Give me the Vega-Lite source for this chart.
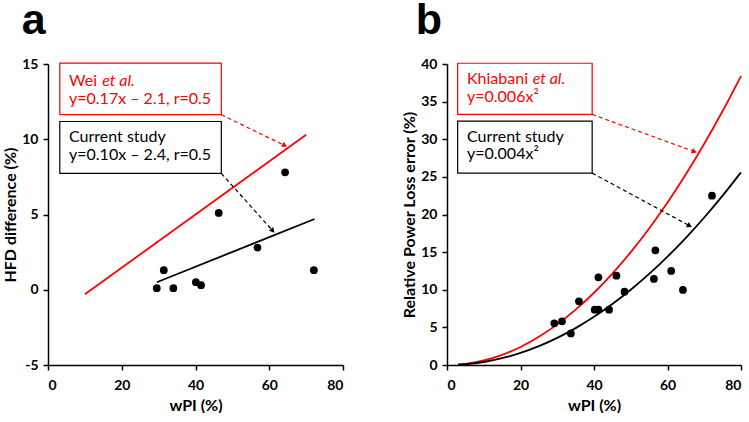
{
  "$schema": "https://vega.github.io/schema/vega-lite/v6.json",
  "padding": {"left": 2, "top": 0, "right": 0, "bottom": 0},
  "background": "white",
  "spacing": 57,
  "config": {
    "view": {"stroke": null},
    "font": "Lato",
    "axis": {
      "grid": false, "domainColor": "black", "domainWidth": 1.5, "tickColor": "black", "tickWidth": 1.5, "tickSize": 5,
      "labelFont": "Lato", "labelFontWeight": "bold", "labelFontSize": 14, "labelColor": "black",
      "titleFont": "Lato", "titleFontWeight": "bold", "titleFontSize": 16, "titleColor": "black"
    },
    "axisX": {"labelPadding": 8, "titlePadding": 5},
    "axisY": {"labelPadding": 5, "titlePadding": 3}
  },
  "datasets": {
    "pointsA": [
      {"x": 29.5, "y": 0.1}, {"x": 31.4, "y": 1.3}, {"x": 34.0, "y": 0.1}, {"x": 40.1, "y": 0.5},
      {"x": 41.5, "y": 0.3}, {"x": 46.3, "y": 5.1}, {"x": 56.8, "y": 2.8}, {"x": 64.3, "y": 7.8}, {"x": 72.1, "y": 1.3}
    ],
    "fitA": [
      {"series": "ref", "x": 10, "y": -0.3}, {"series": "ref", "x": 70, "y": 10.3},
      {"series": "current", "x": 29.5, "y": 0.5}, {"series": "current", "x": 72.3, "y": 4.7}
    ],
    "boxesA": [
      {"series": "ref", "x": 3.2, "x2": 47.0, "y": 15.06, "y2": 11.63},
      {"series": "current", "x": 3.2, "x2": 47.0, "y": 11.18, "y2": 7.73}
    ],
    "labelsA": [
      {"series": "ref", "x": 5.7, "y": 13.55, "text": "Wei"},
      {"series": "ref", "x": 5.7, "y": 12.33, "text": "y=0.17x – 2.1, r=0.5"},
      {"series": "current", "x": 5.7, "y": 9.79, "text": "Current study"},
      {"series": "current", "x": 5.7, "y": 8.61, "text": "y=0.10x – 2.4, r=0.5"}
    ],
    "italicA": [{"series": "ref", "x": 14.7, "y": 13.55, "text": "et al."}],
    "arrowsA": [
      {"series": "ref", "x": 47.0, "y": 11.63, "x2": 64.0, "y2": 9.61},
      {"series": "current", "x": 47.0, "y": 7.73, "x2": 60.8, "y2": 3.96}
    ],
    "headsA": [
      {"series": "ref", "x": 64.0, "y": 9.61},
      {"series": "current", "x": 60.8, "y": 3.96}
    ],
    "pointsB": [
      {"x": 29.2, "y": 5.54}, {"x": 31.3, "y": 5.8}, {"x": 33.7, "y": 4.2}, {"x": 35.9, "y": 8.46},
      {"x": 40.2, "y": 7.35}, {"x": 41.2, "y": 7.35}, {"x": 41.2, "y": 11.65}, {"x": 44.1, "y": 7.35},
      {"x": 46.1, "y": 11.87}, {"x": 48.3, "y": 9.75}, {"x": 56.3, "y": 11.43}, {"x": 56.7, "y": 15.24},
      {"x": 61.0, "y": 12.5}, {"x": 64.2, "y": 9.97}, {"x": 72.1, "y": 22.5}
    ],
    "curvesB": [
      {"series": "ref", "x": 3, "y": 0.05}, {"series": "ref", "x": 5, "y": 0.15}, {"series": "ref", "x": 10, "y": 0.6},
      {"series": "ref", "x": 15, "y": 1.35}, {"series": "ref", "x": 20, "y": 2.4}, {"series": "ref", "x": 25, "y": 3.75},
      {"series": "ref", "x": 30, "y": 5.4}, {"series": "ref", "x": 35, "y": 7.35}, {"series": "ref", "x": 40, "y": 9.6},
      {"series": "ref", "x": 45, "y": 12.15}, {"series": "ref", "x": 50, "y": 15}, {"series": "ref", "x": 55, "y": 18.15},
      {"series": "ref", "x": 60, "y": 21.6}, {"series": "ref", "x": 65, "y": 25.35}, {"series": "ref", "x": 70, "y": 29.4},
      {"series": "ref", "x": 75, "y": 33.75}, {"series": "ref", "x": 80, "y": 38.4},
      {"series": "current", "x": 3, "y": 0.04}, {"series": "current", "x": 5, "y": 0.1}, {"series": "current", "x": 10, "y": 0.4},
      {"series": "current", "x": 15, "y": 0.9}, {"series": "current", "x": 20, "y": 1.6}, {"series": "current", "x": 25, "y": 2.5},
      {"series": "current", "x": 30, "y": 3.6}, {"series": "current", "x": 35, "y": 4.9}, {"series": "current", "x": 40, "y": 6.4},
      {"series": "current", "x": 45, "y": 8.1}, {"series": "current", "x": 50, "y": 10}, {"series": "current", "x": 55, "y": 12.1},
      {"series": "current", "x": 60, "y": 14.4}, {"series": "current", "x": 65, "y": 16.9}, {"series": "current", "x": 70, "y": 19.6},
      {"series": "current", "x": 75, "y": 22.5}, {"series": "current", "x": 80, "y": 25.6}
    ],
    "boxesB": [
      {"series": "ref", "x": 2.9, "x2": 39.5, "y": 40.1, "y2": 33.3},
      {"series": "current", "x": 2.9, "x2": 39.5, "y": 32.4, "y2": 25.5}
    ],
    "labelsB": [
      {"series": "ref", "x": 5.44, "y": 37.34, "text": "Khiabani"},
      {"series": "ref", "x": 5.44, "y": 34.9, "text": "y=0.006x²"},
      {"series": "current", "x": 5.44, "y": 29.7, "text": "Current study"},
      {"series": "current", "x": 5.44, "y": 27.4, "text": "y=0.004x²"}
    ],
    "italicB": [{"series": "ref", "x": 23.3, "y": 37.34, "text": "et al."}],
    "arrowsB": [
      {"series": "ref", "x": 39.5, "y": 33.3, "x2": 67.1, "y2": 28.4},
      {"series": "current", "x": 39.5, "y": 25.5, "x2": 65.8, "y2": 18.56}
    ],
    "headsB": [
      {"series": "ref", "x": 67.1, "y": 28.4},
      {"series": "current", "x": 65.8, "y": 18.56}
    ]
  },
  "hconcat": [
    {
      "width": 295, "height": 301,
      "title": {"text": "a", "anchor": "start", "fontSize": 43, "fontWeight": "bold", "font": "Liberation Sans", "color": "black", "dx": 19, "offset": 14},
      "encoding": {
        "x": {"field": "x", "type": "quantitative", "scale": {"domain": [0, 80]}, "title": "wPI (%)", "axis": {"values": [0, 20, 40, 60, 80]}},
        "y": {"field": "y", "type": "quantitative", "scale": {"domain": [-5, 15]}, "title": "HFD difference (%)", "axis": {"values": [-5, 0, 5, 10, 15], "labelExpr": "'' + datum.value"}}
      },
      "layer": [
        {
          "data": {"name": "boxesA"},
          "mark": {"type": "rect", "fill": "white", "strokeWidth": 1.2},
          "encoding": {
            "x2": {"field": "x2"},
            "y2": {"field": "y2"},
            "stroke": {"field": "series", "type": "nominal", "scale": {"domain": ["ref", "current"], "range": ["#ff0000", "#000000"]}, "legend": null}
          }
        },
        {
          "data": {"name": "fitA"},
          "mark": {"type": "line", "strokeWidth": 1.8},
          "encoding": {
            "color": {"field": "series", "type": "nominal", "scale": {"domain": ["ref", "current"], "range": ["#ff0000", "#000000"]}, "legend": null}
          }
        },
        {
          "data": {"name": "pointsA"},
          "mark": {"type": "circle", "size": 60, "color": "black", "opacity": 1},
          "encoding": {}
        },
        {
          "data": {"name": "arrowsA"},
          "mark": {"type": "rule", "strokeWidth": 1.2, "strokeDash": [4, 3]},
          "encoding": {
            "x2": {"field": "x2"},
            "y2": {"field": "y2"},
            "color": {"field": "series", "type": "nominal", "scale": {"domain": ["ref", "current"], "range": ["#ff0000", "#000000"]}, "legend": null}
          }
        },
        {
          "data": {"name": "headsA"},
          "transform": [{"filter": "datum.series === 'ref'"}],
          "mark": {"type": "point", "shape": "triangle", "filled": true, "size": 35, "angle": 116, "color": "#ff0000", "opacity": 1},
          "encoding": {}
        },
        {
          "data": {"name": "headsA"},
          "transform": [{"filter": "datum.series === 'current'"}],
          "mark": {"type": "point", "shape": "triangle", "filled": true, "size": 35, "angle": 138, "color": "#000000", "opacity": 1},
          "encoding": {}
        },
        {
          "data": {"name": "labelsA"},
          "mark": {"type": "text", "align": "left", "baseline": "alphabetic", "font": "Lato", "fontSize": 16},
          "encoding": {
            "text": {"field": "text"},
            "color": {"field": "series", "type": "nominal", "scale": {"domain": ["ref", "current"], "range": ["#ff0000", "#000000"]}, "legend": null}
          }
        },
        {
          "data": {"name": "italicA"},
          "mark": {"type": "text", "align": "left", "baseline": "alphabetic", "font": "Lato", "fontSize": 16, "fontStyle": "italic"},
          "encoding": {
            "text": {"field": "text"},
            "color": {"field": "series", "type": "nominal", "scale": {"domain": ["ref", "current"], "range": ["#ff0000", "#000000"]}, "legend": null}
          }
        }
      ]
    },
    {
      "width": 294, "height": 301,
      "title": {"text": "b", "anchor": "start", "fontSize": 43, "fontWeight": "bold", "font": "Liberation Sans", "color": "black", "dx": 14, "offset": 14},
      "encoding": {
        "x": {"field": "x", "type": "quantitative", "scale": {"domain": [0, 80]}, "title": "wPI (%)", "axis": {"values": [0, 20, 40, 60, 80]}},
        "y": {"field": "y", "type": "quantitative", "scale": {"domain": [0, 40]}, "title": "Relative Power Loss error (%)", "axis": {"values": [0, 5, 10, 15, 20, 25, 30, 35, 40]}}
      },
      "layer": [
        {
          "data": {"name": "boxesB"},
          "mark": {"type": "rect", "fill": "white", "strokeWidth": 1.2},
          "encoding": {
            "x2": {"field": "x2"},
            "y2": {"field": "y2"},
            "stroke": {"field": "series", "type": "nominal", "scale": {"domain": ["ref", "current"], "range": ["#ff0000", "#000000"]}, "legend": null}
          }
        },
        {
          "data": {"name": "curvesB"},
          "mark": {"type": "line", "strokeWidth": 1.8, "interpolate": "monotone"},
          "encoding": {
            "color": {"field": "series", "type": "nominal", "scale": {"domain": ["ref", "current"], "range": ["#ff0000", "#000000"]}, "legend": null}
          }
        },
        {
          "data": {"name": "pointsB"},
          "mark": {"type": "circle", "size": 60, "color": "black", "opacity": 1},
          "encoding": {}
        },
        {
          "data": {"name": "arrowsB"},
          "mark": {"type": "rule", "strokeWidth": 1.2, "strokeDash": [4, 3]},
          "encoding": {
            "x2": {"field": "x2"},
            "y2": {"field": "y2"},
            "color": {"field": "series", "type": "nominal", "scale": {"domain": ["ref", "current"], "range": ["#ff0000", "#000000"]}, "legend": null}
          }
        },
        {
          "data": {"name": "headsB"},
          "transform": [{"filter": "datum.series === 'ref'"}],
          "mark": {"type": "point", "shape": "triangle", "filled": true, "size": 35, "angle": 110, "color": "#ff0000", "opacity": 1},
          "encoding": {}
        },
        {
          "data": {"name": "headsB"},
          "transform": [{"filter": "datum.series === 'current'"}],
          "mark": {"type": "point", "shape": "triangle", "filled": true, "size": 35, "angle": 118, "color": "#000000", "opacity": 1},
          "encoding": {}
        },
        {
          "data": {"name": "labelsB"},
          "mark": {"type": "text", "align": "left", "baseline": "alphabetic", "font": "Lato", "fontSize": 16},
          "encoding": {
            "text": {"field": "text"},
            "color": {"field": "series", "type": "nominal", "scale": {"domain": ["ref", "current"], "range": ["#ff0000", "#000000"]}, "legend": null}
          }
        },
        {
          "data": {"name": "italicB"},
          "mark": {"type": "text", "align": "left", "baseline": "alphabetic", "font": "Lato", "fontSize": 16, "fontStyle": "italic"},
          "encoding": {
            "text": {"field": "text"},
            "color": {"field": "series", "type": "nominal", "scale": {"domain": ["ref", "current"], "range": ["#ff0000", "#000000"]}, "legend": null}
          }
        }
      ]
    }
  ]
}
